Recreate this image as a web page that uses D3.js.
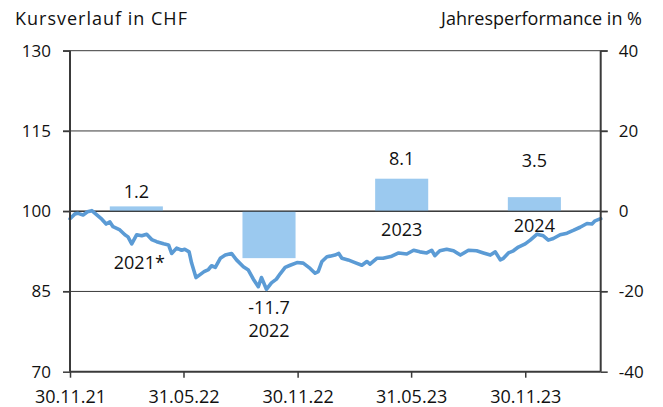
<!DOCTYPE html>
<html>
<head>
<meta charset="utf-8">
<script src="https://cdn.jsdelivr.net/npm/d3@7"></script>
<style>
  body { margin: 0; background: #fff; }
  text { font-family: "Open Sans", sans-serif; fill: #111; }
</style>
</head>
<body>
<div class="chart"></div>
<script>
// ---------------- data ----------------
const priceDates = [
  "2021-11-30","2021-12-08","2021-12-13","2021-12-21","2021-12-28","2022-01-04","2022-01-12","2022-01-20",
  "2022-01-27","2022-02-02","2022-02-07","2022-02-18","2022-02-26","2022-03-03","2022-03-09","2022-03-17",
  "2022-03-25","2022-04-02","2022-04-10","2022-04-18","2022-04-29","2022-05-07","2022-05-12","2022-05-20",
  "2022-05-28","2022-06-02","2022-06-09","2022-06-13","2022-06-20","2022-06-26","2022-07-03","2022-07-10",
  "2022-07-15","2022-07-21","2022-07-29","2022-08-06","2022-08-16","2022-08-24","2022-09-04","2022-09-12",
  "2022-09-20","2022-09-28","2022-10-03","2022-10-11","2022-10-19","2022-10-27","2022-11-02","2022-11-10",
  "2022-11-18","2022-11-29","2022-12-09","2022-12-20","2022-12-28","2023-01-02","2023-01-08","2023-01-16",
  "2023-01-21","2023-01-29","2023-02-04","2023-02-09","2023-02-19","2023-03-02","2023-03-13","2023-03-21",
  "2023-03-26","2023-04-06","2023-04-16","2023-04-30","2023-05-11","2023-05-24","2023-06-04","2023-06-14",
  "2023-06-25","2023-07-03","2023-07-08","2023-07-16","2023-07-27","2023-08-07","2023-08-18","2023-08-31",
  "2023-09-13","2023-09-24","2023-10-05","2023-10-13","2023-10-21","2023-10-26","2023-11-03","2023-11-11",
  "2023-11-19","2023-11-30","2023-12-08","2023-12-19","2023-12-29","2024-01-06","2024-01-14","2024-01-25",
  "2024-02-05","2024-02-15","2024-02-26","2024-03-08","2024-03-16","2024-03-21","2024-03-30"
];
const priceValues = [
  98.6, 99.5, 99.6, 99.3, 99.9, 100.1, 99.3, 98.5,
  97.6, 98.0, 97.1, 96.5, 95.6, 95.2, 93.9, 95.6,
  95.4, 95.7, 94.7, 94.3, 93.9, 93.7, 92.1, 93.1,
  92.7, 92.9, 92.4, 90.3, 87.6, 88.1, 88.7, 89.1,
  89.8, 89.5, 91.2, 91.8, 92.1, 90.9, 89.6, 89.0,
  87.3, 85.9, 87.6, 85.4, 86.6, 87.3, 88.3, 89.5,
  89.9, 90.4, 90.3, 89.3, 88.4, 88.7, 90.6, 91.5,
  91.6, 91.8, 92.1, 91.2, 90.9, 90.4, 89.9, 90.6,
  90.1, 91.2, 91.2, 91.6, 92.2, 92.0, 92.7, 92.4,
  92.2, 92.7, 91.7, 92.6, 92.9, 92.6, 91.8, 92.7,
  92.6, 92.2, 91.8, 92.4, 90.9, 91.2, 92.2, 92.6,
  93.3, 93.9, 94.6, 95.7, 95.4, 94.6, 94.9, 95.6,
  95.9, 96.4, 97.0, 97.7, 97.6, 98.2, 98.6
];

const years = ["2021*", "2022", "2023", "2024"];
const perf = [1.2, -11.7, 8.1, 3.5];
// where the annotations sit, in right-axis units (placed by hand in the original)
const valueLabelAt = [3.2, -25.5, 11.5, 11.1];
const yearLabelAt = [-14.5, -31.3, -6.1, -5.1];

const leftTicks = [70, 85, 100, 115, 130];
const rightTicks = [-40, -20, 0, 20, 40];
const dateTicks = ["2021-11-30", "2022-05-31", "2022-11-30", "2023-05-31", "2023-11-30"];
const dateRange = ["2021-11-30", "2024-03-30"];

// ---------------- layout ----------------
const W = 663, H = 407;
const pLeft = 70, pRight = 600.7, pTop = 50.7, pBottom = 371.7;

const parse = d3.timeParse("%Y-%m-%d");
const fmt = d3.timeFormat("%d.%m.%y");
// plain hyphen as minus, like the original
const loc = d3.formatLocale({ decimal: ".", thousands: "'", grouping: [3], currency: ["", ""], minus: "-" });

const series = priceDates.map(function(d, i) {
  return { date: parse(d), value: priceValues[i] };
});

const x = d3.scaleTime().domain(dateRange.map(parse)).range([pLeft, pRight]);
const yL = d3.scaleLinear().domain([70, 130]).range([pBottom, pTop]);
const yR = d3.scaleLinear().domain([-40, 40]).range([pBottom, pTop]);
const xb = d3.scaleBand().domain(years).range([pLeft, pRight]).paddingInner(0.6).paddingOuter(0.3);

const svg = d3.select(".chart").append("svg")
  .attr("width", W)
  .attr("height", H);

// titles
svg.append("text").attr("x", 15).attr("y", 25).style("font-size", "18px").style("letter-spacing", "1px")
  .text("Kursverlauf in CHF");
svg.append("text").attr("x", 642).attr("y", 25).attr("text-anchor", "end").style("font-size", "18px")
  .text("Jahresperformance in %");

// gridlines (also serve as the tick marks on both sides)
svg.append("g").selectAll("line")
  .data(leftTicks.filter(function(t) { return t > 70; }))
  .join("line")
  .attr("x1", pLeft - 7)
  .attr("x2", pRight + 7)
  .attr("y1", function(d) { return yL(d); })
  .attr("y2", function(d) { return yL(d); })
  .attr("stroke", "#3a3a3a")
  .attr("stroke-width", 1);

// bars
svg.append("g").selectAll("rect")
  .data(perf)
  .join("rect")
  .attr("x", function(d, i) { return xb(years[i]); })
  .attr("width", xb.bandwidth())
  .attr("y", function(d) { return d > 0 ? yR(d) : yR(0); })
  .attr("height", function(d) { return Math.abs(yR(d) - yR(0)); })
  .attr("fill", "#9bc9ef");

// zero line on top of bars
svg.append("line")
  .attr("x1", pLeft).attr("x2", pRight)
  .attr("y1", yR(0)).attr("y2", yR(0))
  .attr("stroke", "#222").attr("stroke-width", 1);

// price line
const line = d3.line()
  .x(function(d) { return x(d.date); })
  .y(function(d) { return yL(d.value); })
  .curve(d3.curveLinear);

svg.append("path")
  .attr("d", line(series))
  .attr("fill", "none")
  .attr("stroke", "#5b9bd5")
  .attr("stroke-width", 3.6)
  .attr("stroke-linejoin", "round")
  .attr("stroke-linecap", "round");

// bar labels
const labels = svg.append("g").style("font-size", "18px").attr("text-anchor", "middle");
labels.selectAll("text.val")
  .data(perf)
  .join("text")
  .attr("class", "val")
  .attr("x", function(d, i) { return xb(years[i]) + xb.bandwidth() / 2; })
  .attr("y", function(d, i) { return yR(valueLabelAt[i]); })
  .text(function(d) { return loc.format(".1f")(d); });
labels.selectAll("text.yr")
  .data(years)
  .join("text")
  .attr("class", "yr")
  .attr("x", function(d) { return xb(d) + xb.bandwidth() / 2 + (d.indexOf("*") > 0 ? 3 : 0); })
  .attr("y", function(d, i) { return yR(yearLabelAt[i]); })
  .text(function(d) { return d; });

// axes
const axL = svg.append("g")
  .attr("transform", "translate(" + pLeft + ",0)")
  .call(d3.axisLeft(yL).tickValues(leftTicks).tickSize(7).tickPadding(12));
const axR = svg.append("g")
  .attr("transform", "translate(" + pRight + ",0)")
  .call(d3.axisRight(yR).tickValues(rightTicks).tickFormat(loc.format("d")).tickSize(7).tickPadding(11));
const axB = svg.append("g")
  .attr("transform", "translate(0," + pBottom + ")")
  .call(d3.axisBottom(x).tickValues(dateTicks.map(parse)).tickFormat(fmt).tickSize(6).tickPadding(13));

[axL, axR, axB].forEach(function(ax) {
  ax.select(".domain").attr("stroke", "#3a3a3a").attr("stroke-width", 2);
  ax.selectAll(".tick line").attr("stroke", "#3a3a3a").attr("stroke-width", 1.5);
  ax.selectAll(".tick text").style("font-family", "Open Sans, sans-serif").style("font-size", "17px").attr("fill", "#111");
});
axL.select(".domain").attr("d", "M0," + pTop + "V" + pBottom);
axR.select(".domain").attr("d", "M0," + pTop + "V" + pBottom);
axB.select(".domain").attr("d", "M" + pLeft + ",0H" + pRight);
axB.selectAll(".tick text").style("font-size", "18px");
</script>
</body>
</html>
